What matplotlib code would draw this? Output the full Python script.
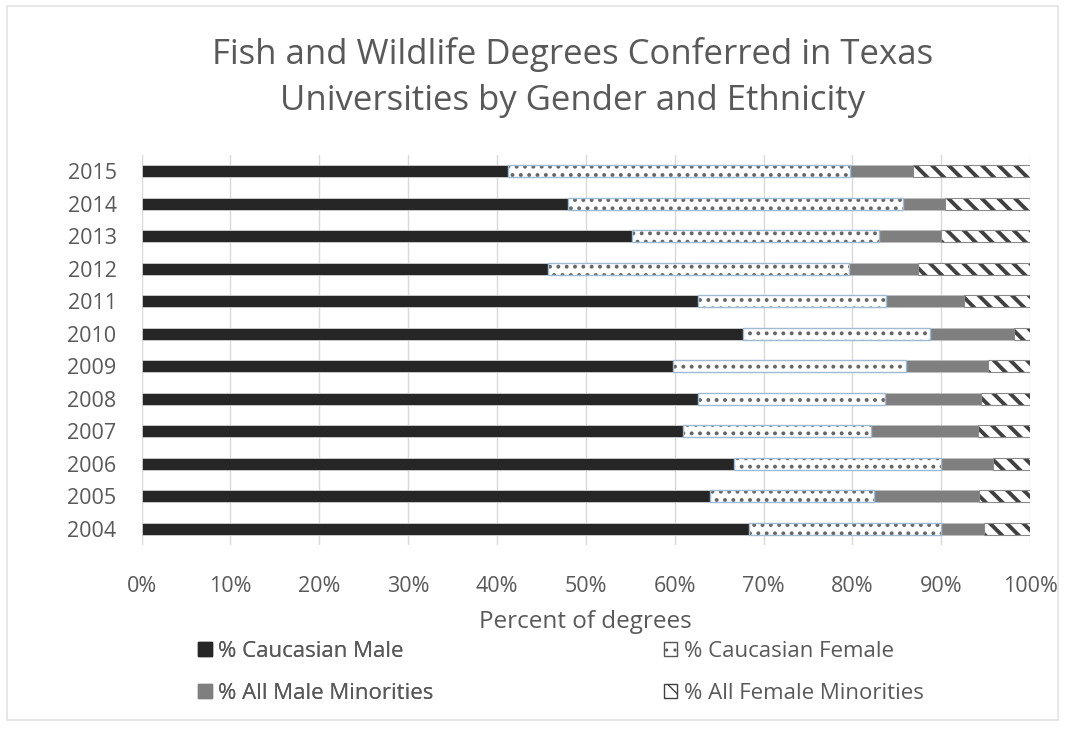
import matplotlib.pyplot as plt
import numpy as np
from matplotlib.patches import Patch, Rectangle
from matplotlib.ticker import PercentFormatter

years = ["2004", "2005", "2006", "2007", "2008", "2009",
         "2010", "2011", "2012", "2013", "2014", "2015"]
caucasian_male = [68.4, 64.0, 66.7, 60.9, 62.6, 59.8, 67.7, 62.6, 45.8, 55.2, 48.0, 41.2]
caucasian_female = [21.6, 18.4, 23.3, 21.2, 21.1, 26.2, 21.0, 21.2, 33.8, 27.8, 37.7, 38.5]
male_minorities = [4.8, 11.9, 5.8, 12.0, 10.8, 9.3, 9.5, 8.8, 7.8, 7.0, 4.7, 7.1]
female_minorities = [5.2, 5.7, 4.2, 5.9, 5.5, 4.7, 1.8, 7.4, 12.6, 10.0, 9.6, 13.2]

TEXT = "#595959"
GRID = "#d9d9d9"
DARK = "#262626"
MID = "#7f7f7f"
DOT_EDGE = "#9dbcd4"

plt.rcParams["font.family"] = ["Open Sans", "DejaVu Sans"]

fig = plt.figure(figsize=(10.65, 7.29), dpi=100, facecolor="white")
fig.patches.append(Rectangle((0.007, 0.012), 0.986, 0.98, transform=fig.transFigure,
                             fill=False, edgecolor="#e3e3e3", linewidth=1.2))
ax = fig.add_axes([0.1329, 0.2524, 0.8343, 0.535])

y = np.arange(len(years))
h = 0.37
cm = np.array(caucasian_male)
cf = np.array(caucasian_female)
mm = np.array(male_minorities)
fm = np.array(female_minorities)

ax.barh(y, cm, height=h, color=DARK, edgecolor="#d0d0d0", linewidth=0.6, zorder=3)
with plt.rc_context({"hatch.linewidth": 1.6}):
    ax.barh(y, cf, left=cm, height=h, color="white", edgecolor="#666666",
            hatch="..", linewidth=0, zorder=3)
    dots_handle = Patch(facecolor="white", edgecolor="#555555", hatch="..",
                        label="% Caucasian Female")
ax.barh(y, cf, left=cm, height=h, fill=False, edgecolor=DOT_EDGE, linewidth=1.0, zorder=4)
ax.barh(y, mm, left=cm + cf, height=h, color=MID, edgecolor="#bfbfbf", linewidth=0.6, zorder=3)
with plt.rc_context({"hatch.linewidth": 2.8}):
    ax.barh(y, fm, left=cm + cf + mm, height=h, color="white", edgecolor="#404040",
            hatch="\\\\", linewidth=0, zorder=3)
    stripe_handle = Patch(facecolor="white", edgecolor="#404040", hatch="\\\\",
                          label="% All Female Minorities")
ax.barh(y, fm, left=cm + cf + mm, height=h, fill=False, edgecolor="#8a8a8a",
        linewidth=0.8, zorder=4)

ax.set_xlim(0, 100)
ax.set_ylim(-0.5, len(years) - 0.5)
ax.set_yticks(y)
ax.set_yticklabels(years)
ax.set_xticks(np.arange(0, 101, 10))
ax.xaxis.set_major_formatter(PercentFormatter(decimals=0))
ax.tick_params(axis="both", length=0, labelsize=15.5, colors=TEXT)
ax.tick_params(axis="x", pad=22)
ax.tick_params(axis="y", pad=18)
ax.grid(axis="x", color=GRID, linewidth=1.0, zorder=0)
for side in ax.spines.values():
    side.set_visible(False)
ax.set_xlabel("Percent of degrees", fontsize=17.5, color=TEXT, labelpad=10)

fig.text(0.538, 0.925, "Fish and Wildlife Degrees Conferred in Texas",
         ha="center", va="center", fontsize=25, color=TEXT)
fig.text(0.538, 0.862, "Universities by Gender and Ethnicity",
         ha="center", va="center", fontsize=25, color=TEXT)

handles_left = [
    Patch(facecolor=DARK, edgecolor=DARK, label="% Caucasian Male"),
    Patch(facecolor=MID, edgecolor=MID, label="% All Male Minorities"),
]
handles_right = [dots_handle, stripe_handle]
legend_style = dict(frameon=False, fontsize=16, labelcolor=TEXT, handlelength=0.6,
                    handleheight=0.6, handletextpad=0.3, labelspacing=0.95,
                    loc="upper left", borderaxespad=0)
fig.add_artist(fig.legend(handles=handles_left, bbox_to_anchor=(0.178, 0.133), **legend_style))
fig.legend(handles=handles_right, bbox_to_anchor=(0.615, 0.133), **legend_style)

fig.savefig("out.png", dpi=100, facecolor="white")
